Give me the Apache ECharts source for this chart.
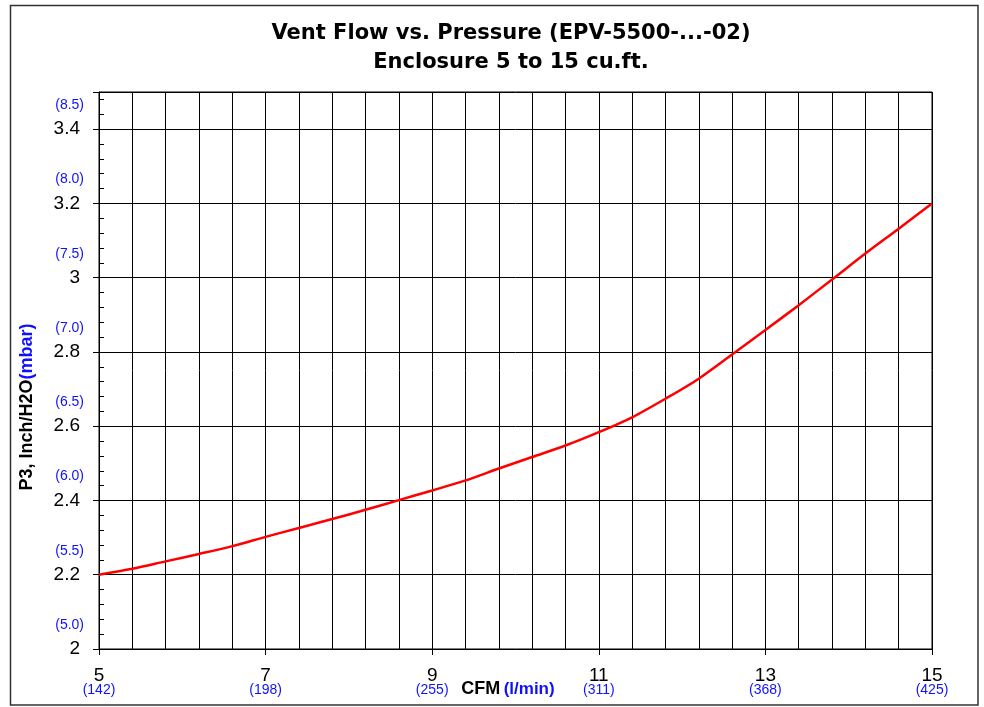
<!DOCTYPE html>
<html>
<head>
<meta charset="utf-8">
<script src="https://cdn.jsdelivr.net/npm/echarts@6/dist/echarts.min.js"></script>
<style>html,body{margin:0;padding:0;background:#fff}#c{width:984px;height:707px}</style>
</head>
<body>
<div id="c"></div>
<script>
// ---- data ----
const cfm = ['5','5.4','5.8','6.2','6.6','7','7.4','7.8','8.2','8.6','9','9.4','9.8','10.2','10.6','11','11.4','11.8','12.2','12.6','13','13.4','13.8','14.2','14.6','15'];
const pressure = [2.200,2.216,2.236,2.256,2.277,2.302,2.326,2.350,2.375,2.401,2.427,2.454,2.486,2.517,2.548,2.584,2.624,2.674,2.728,2.793,2.859,2.926,2.995,3.065,3.132,3.200];
const xTickLabels = ['5','7','9','11','13','15'];
const lminLabels = ['(142)','(198)','(255)','(311)','(368)','(425)'];
const yTicks = [2,2.2,2.4,2.6,2.8,3,3.2,3.4];
const mbarLabels = ['(5.0)','(5.5)','(6.0)','(6.5)','(7.0)','(7.5)','(8.0)','(8.5)'];
const titleLines = ['Vent Flow vs. Pressure (EPV-5500-...-02)','Enclosure 5 to 15 cu.ft.'];

const FONT = 'Liberation Sans, Arial, sans-serif';
const TFONT = 'DejaVu Sans, Liberation Sans, sans-serif';
const BLUE = '#1010ff';
function yIdx(v){ for(let i=0;i<yTicks.length;i++){ if(Math.abs(yTicks[i]-v)<1e-6) return i; } return -1; }

const chart = echarts.init(document.getElementById('c'), null, {renderer:'canvas'});
chart.setOption({
  animation:false,
  backgroundColor:'#fff',
  textStyle:{fontFamily:FONT},
  grid:{left:99, top:92, width:833, height:557, show:true, borderColor:'#000', borderWidth:1, containLabel:false},
  xAxis:{
    type:'category', data:cfm, boundaryGap:false,
    axisLine:{lineStyle:{color:'#000',width:1}},
    axisTick:{show:true, interval:4, length:6, lineStyle:{color:'#000'}},
    splitLine:{show:true, interval:0, lineStyle:{color:'#000',width:1}},
    axisLabel:{
      interval:4, margin:17, fontFamily:FONT,
      formatter:function(v){ const i = xTickLabels.indexOf(v); return '{v|'+v+'}\n{m|'+(i>=0?lminLabels[i]:'')+'}'; },
      rich:{
        v:{fontSize:19, color:'#000', lineHeight:19, fontFamily:FONT},
        m:{fontSize:14, color:BLUE, lineHeight:10, fontFamily:FONT}
      }
    }
  },
  yAxis:[
    {
      type:'value', min:2, max:3.5, interval:0.2,
      axisLine:{show:true, lineStyle:{color:'#000',width:1}},
      axisTick:{show:true, length:6, lineStyle:{color:'#000'}},
      splitLine:{show:true, lineStyle:{color:'#000',width:1}},
      axisLabel:{margin:19, fontSize:19, color:'#000', fontFamily:FONT,
        formatter:function(v){ return yIdx(v)>=0 ? String(v) : ''; }}
    },
    {
      type:'value', min:2, max:3.5, interval:0.2, position:'left',
      axisLine:{show:false},
      axisTick:{show:true, inside:true, length:5, lineStyle:{color:'#000'}},
      minorTick:{show:true, splitNumber:5, length:5, lineStyle:{color:'#000'}},
      splitLine:{show:false},
      axisLabel:{margin:15, fontSize:14, color:BLUE, fontFamily:FONT, verticalAlign:'bottom', padding:[0,0,17,0],
        formatter:function(v){ const i=yIdx(v); return i>=0 ? mbarLabels[i] : ''; }}
    }
  ],
  series:[{
    type:'line', data:pressure, xAxisIndex:0, yAxisIndex:0,
    smooth:0.3, showSymbol:false, symbol:'none',
    lineStyle:{color:'#ff0000', width:2.5}
  }],
  graphic:[
    {type:'rect', shape:{x:10.5, y:5.5, width:967.5, height:699.5}, style:{fill:null, stroke:'#333', lineWidth:1.5}, silent:true},
    {type:'text', x:511, y:34, style:{text:titleLines[0], font:'bold 21px '+TFONT, fill:'#000', align:'center', verticalAlign:'middle'}},
    {type:'text', x:511, y:63, style:{text:titleLines[1], font:'bold 21px '+TFONT, fill:'#000', align:'center', verticalAlign:'middle'}},
    {type:'text', x:508, y:689, style:{
      text:'{a|CFM} {b|(l/min)}', align:'center', verticalAlign:'middle',
      rich:{a:{fontSize:18, fontWeight:'bold', fill:'#000', fontFamily:FONT}, b:{fontSize:17, fontWeight:'bold', fill:BLUE, fontFamily:FONT}}}},
    {type:'text', x:27, y:407, rotation:Math.PI/2, style:{
      text:'{a|P3, Inch/H2O}{b|(mbar)}', align:'center', verticalAlign:'middle',
      rich:{a:{fontSize:18, fontWeight:'bold', fill:'#000', fontFamily:FONT}, b:{fontSize:18, fontWeight:'bold', fill:BLUE, fontFamily:FONT}}}}
  ]
});
</script>
</body>
</html>
